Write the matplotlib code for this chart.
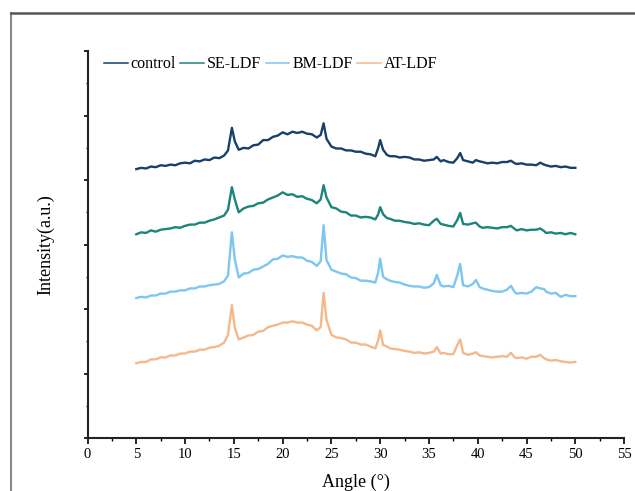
import matplotlib.pyplot as plt
from matplotlib.lines import Line2D
from matplotlib.ticker import MultipleLocator, NullFormatter

# diffraction angle (2theta, degrees)
angle = [
    5, 5.5, 6, 6.5, 7, 7.5, 8, 8.5, 9, 9.5,
    10, 10.5, 11, 11.5, 12, 12.5, 13, 13.5, 14, 14.4,
    14.8, 15.1, 15.5, 16, 16.5, 17, 17.5, 18, 18.5, 19,
    19.5, 20, 20.5, 21, 21.5, 22, 22.5, 23, 23.5, 23.9,
    24.2, 24.5, 25, 25.5, 26, 26.5, 27, 27.5, 28, 28.5,
    29, 29.5, 29.8, 30.0, 30.3, 30.7, 31, 31.5, 32, 32.5,
    33, 33.5, 34, 34.5, 35, 35.5, 35.8, 36.2, 36.5, 37,
    37.5, 37.9, 38.2, 38.5, 39, 39.5, 39.8, 40.2, 40.5, 41,
    41.5, 42, 42.5, 43, 43.4, 43.8, 44, 44.5, 45, 45.5,
    46, 46.4, 46.8, 47, 47.5, 48, 48.5, 49, 49.5, 50,
]

control = [
    4.17, 4.19, 4.18, 4.21, 4.20, 4.23, 4.22, 4.24, 4.23, 4.26,
    4.27, 4.26, 4.30, 4.29, 4.32, 4.31, 4.35, 4.34, 4.38, 4.46,
    4.81, 4.60, 4.47, 4.50, 4.49, 4.54, 4.55, 4.62, 4.62, 4.67,
    4.69, 4.74, 4.71, 4.75, 4.73, 4.75, 4.72, 4.71, 4.66, 4.70,
    4.88, 4.64, 4.52, 4.49, 4.49, 4.46, 4.46, 4.44, 4.44, 4.41,
    4.40, 4.37, 4.50, 4.62, 4.47, 4.39, 4.37, 4.37, 4.35, 4.36,
    4.35, 4.32, 4.32, 4.30, 4.31, 4.32, 4.36, 4.29, 4.31, 4.28,
    4.27, 4.34, 4.42, 4.31, 4.29, 4.27, 4.31, 4.29, 4.28, 4.26,
    4.27, 4.26, 4.28, 4.28, 4.30, 4.26, 4.25, 4.26, 4.24, 4.24,
    4.23, 4.27, 4.24, 4.23, 4.21, 4.22, 4.20, 4.21, 4.19, 4.19,
]

se_ldf = [
    3.16, 3.19, 3.18, 3.22, 3.20, 3.23, 3.24, 3.25, 3.27, 3.26,
    3.29, 3.31, 3.31, 3.34, 3.34, 3.37, 3.39, 3.42, 3.45, 3.54,
    3.89, 3.70, 3.50, 3.56, 3.59, 3.60, 3.64, 3.65, 3.70, 3.73,
    3.76, 3.81, 3.77, 3.78, 3.74, 3.75, 3.71, 3.69, 3.64, 3.70,
    3.92, 3.73, 3.58, 3.56, 3.51, 3.50, 3.45, 3.45, 3.42, 3.43,
    3.42, 3.39, 3.47, 3.58, 3.47, 3.41, 3.40, 3.37, 3.37, 3.35,
    3.34, 3.32, 3.33, 3.31, 3.30, 3.37, 3.40, 3.32, 3.31, 3.29,
    3.28, 3.38, 3.49, 3.32, 3.31, 3.33, 3.34, 3.28, 3.26, 3.27,
    3.26, 3.25, 3.27, 3.27, 3.29, 3.24, 3.22, 3.24, 3.22, 3.23,
    3.23, 3.25, 3.21, 3.18, 3.19, 3.17, 3.18, 3.16, 3.18, 3.16,
]

bm_ldf = [
    2.17, 2.19, 2.18, 2.21, 2.21, 2.24, 2.24, 2.27, 2.27, 2.29,
    2.29, 2.32, 2.32, 2.35, 2.35, 2.37, 2.38, 2.39, 2.43, 2.52,
    3.19, 2.77, 2.49, 2.55, 2.56, 2.61, 2.62, 2.66, 2.70, 2.77,
    2.78, 2.83, 2.81, 2.82, 2.80, 2.80, 2.75, 2.73, 2.67, 2.74,
    3.30, 2.76, 2.61, 2.58, 2.55, 2.54, 2.49, 2.48, 2.44, 2.44,
    2.43, 2.41, 2.57, 2.78, 2.50, 2.46, 2.44, 2.42, 2.41, 2.38,
    2.36, 2.35, 2.35, 2.33, 2.34, 2.40, 2.53, 2.37, 2.35, 2.36,
    2.34, 2.52, 2.70, 2.37, 2.35, 2.39, 2.45, 2.34, 2.32, 2.30,
    2.28, 2.27, 2.27, 2.30, 2.36, 2.26, 2.24, 2.25, 2.24, 2.27,
    2.34, 2.32, 2.31, 2.27, 2.24, 2.25, 2.19, 2.22, 2.20, 2.20,
]

at_ldf = [
    1.16, 1.18, 1.18, 1.22, 1.22, 1.25, 1.25, 1.28, 1.28, 1.31,
    1.31, 1.34, 1.34, 1.37, 1.37, 1.40, 1.41, 1.43, 1.48, 1.60,
    2.06, 1.71, 1.53, 1.56, 1.59, 1.60, 1.65, 1.66, 1.72, 1.74,
    1.76, 1.79, 1.79, 1.81, 1.79, 1.79, 1.76, 1.74, 1.67, 1.72,
    2.25, 1.83, 1.60, 1.56, 1.55, 1.53, 1.48, 1.48, 1.45, 1.45,
    1.42, 1.39, 1.52, 1.67, 1.44, 1.42, 1.39, 1.38, 1.37, 1.35,
    1.34, 1.32, 1.33, 1.31, 1.32, 1.34, 1.41, 1.31, 1.32, 1.30,
    1.30, 1.44, 1.53, 1.32, 1.29, 1.31, 1.33, 1.28, 1.27, 1.26,
    1.25, 1.26, 1.27, 1.26, 1.32, 1.25, 1.24, 1.25, 1.23, 1.26,
    1.26, 1.29, 1.24, 1.22, 1.20, 1.21, 1.19, 1.18, 1.17, 1.18,
]

labels = ['control', 'SE-LDF', 'BM-LDF', 'AT-LDF']
colors = ['#17406b', '#1a8579', '#7cc6f2', '#f4b88c']

plt.rcParams['font.family'] = ['Liberation Serif', 'DejaVu Serif']

fig = plt.figure(figsize=(6.35, 4.91), dpi=100)
ax = fig.add_axes([0.1378, 0.1079, 0.845, 0.788])

for series, lab, col in zip([control, se_ldf, bm_ldf, at_ldf], labels, colors):
    ax.plot(angle, series, color=col, lw=1.7, label=lab)

ax.set_xlim(0, 55)
ax.set_ylim(0, 6)
ax.xaxis.set_major_locator(MultipleLocator(5))
ax.xaxis.set_minor_locator(MultipleLocator(2.5))
ax.yaxis.set_major_locator(MultipleLocator(1))
ax.yaxis.set_minor_locator(MultipleLocator(0.5))
ax.yaxis.set_major_formatter(NullFormatter())

for side in ['top', 'right']:
    ax.spines[side].set_visible(False)
for side in ['left', 'bottom']:
    ax.spines[side].set_linewidth(1.5)
    ax.spines[side].set_color('#222222')

ax.tick_params(axis='x', which='major', direction='out', length=4, width=1.2, labelsize=10.5, pad=3)
ax.tick_params(axis='x', which='minor', direction='out', length=2.5, width=1.0)
ax.tick_params(axis='y', which='major', direction='out', length=3, width=1.2)
ax.tick_params(axis='y', which='minor', direction='out', length=1.5, width=1.0)

ax.set_xlabel('Angle (°)', fontsize=13, labelpad=9)
ax.set_ylabel('Intensity(a.u.)', fontsize=13, labelpad=17)

leg = ax.legend(loc='center left', bbox_to_anchor=(0.03, 0.966), ncol=4, frameon=False,
                fontsize=11.5, handlelength=1.5, handletextpad=0.2, columnspacing=0.25,
                borderpad=0, borderaxespad=0)
for line in leg.get_lines():
    line.set_linewidth(1.1)

# outer frame of the figure panel
fig.add_artist(Line2D([11 / 635, 11 / 635], [0, 1 - 13 / 491], transform=fig.transFigure,
                      color='#8a8a8a', lw=1.5))
fig.add_artist(Line2D([11 / 635, 1], [1 - 13 / 491, 1 - 13 / 491], transform=fig.transFigure,
                      color='#555555', lw=1.8))

fig.savefig('out.png', dpi=100)
